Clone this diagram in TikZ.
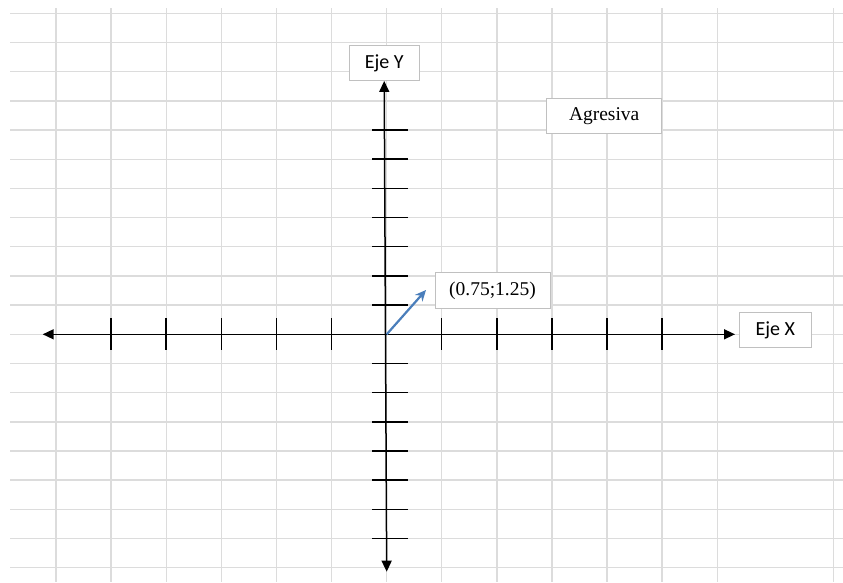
\documentclass[tikz,border=0pt]{standalone}
\usepackage{xcolor}
\usepackage{fontspec}
\setmainfont{Liberation Serif}
\newfontfamily\axisfont{Carlito}
\usepackage{tikz}
\usetikzlibrary{arrows.meta}
\definecolor{gridgray}{HTML}{DCDCDC}
\definecolor{boxgray}{HTML}{C0C0C0}
\definecolor{vectorblue}{HTML}{4A7EBB}
\tikzstyle{gridline} = [draw=gridgray, line width=1.4pt]
\tikzstyle{axisline} = [draw=black, line width=1.5pt, {Triangle[length=11pt,width=10pt]}-{Triangle[length=11pt,width=10pt]}]
\tikzstyle{tick} = [draw=black, line width=1.5pt]
\tikzstyle{vector} = [draw=vectorblue, line width=2.2pt, -{Stealth[length=11pt,width=10pt]}]
\tikzstyle{axisname} = [rectangle, draw=boxgray, fill=white, line width=0.9pt, inner sep=0pt, minimum width=70pt, minimum height=35pt, text centered, font=\axisfont\fontsize{20}{24}\selectfont]
\tikzstyle{textbox} = [rectangle, draw=boxgray, fill=white, line width=0.9pt, inner sep=0pt, minimum width=115pt, minimum height=35.5pt, text centered, font=\fontsize{19.5}{23}\selectfont]

\begin{document}
\begin{tikzpicture}[x=1pt, y=-1pt]
    \useasboundingbox (0,0) rectangle (843,582);
    % spreadsheet grid
    \foreach \k in {0,...,19}
        \draw [gridline] (10,{13.3+29.18*\k}) -- (843,{13.3+29.18*\k});
    \foreach \k in {0,...,12}
        \draw [gridline] ({56+55.1*\k},8) -- ({56+55.1*\k},582);
    \draw [gridline] (833.7,8) -- (833.7,582);

    \node (ylabel) [axisname] at (384.2,63) {Eje Y};
    \node (xlabel) [axisname, minimum width=72pt] at (775.3,330.2) {Eje X};
    \node (agresiva) [textbox] at (604.2,115.7) {Agresiva};
    \node (point) [textbox] at (492.5,290.5) {(0.75;1.25)};

    \coordinate (origin) at (386.7,334.3);
    \coordinate (xleft) at (42.7,334.3);
    \coordinate (xright) at (735,334.3);
    \coordinate (ybottom) at (386.7,571.7);
    \coordinate (tip) at (426,290);

    % axes
    \draw [axisline] (xleft) -- (xright);
    \draw [axisline] (ybottom) -- (ylabel.south);
    \foreach \k in {1,...,5,7,8,...,11}
        \draw [tick] ({56+55.1*\k},318) -- ({56+55.1*\k},350);
    \foreach \k in {4,...,10,12,13,...,18}
        \draw [tick] (372,{13.3+29.18*\k}) -- (408,{13.3+29.18*\k});

    \draw [vector] (origin) -- (tip);
\end{tikzpicture}
\end{document}
